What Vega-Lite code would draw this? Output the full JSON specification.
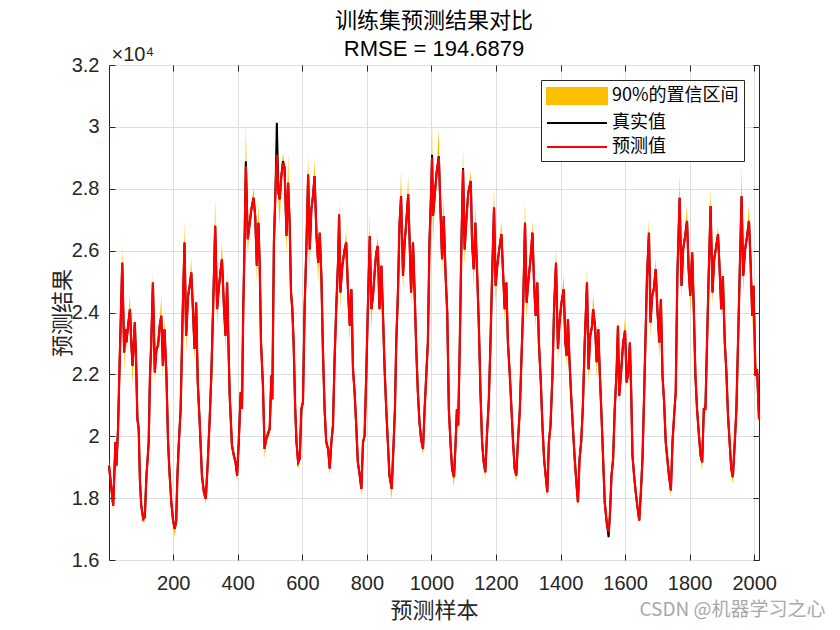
{
"$schema": "https://vega.github.io/schema/vega-lite/v6.json",
"width": 650,
"height": 495,
"autosize": "none",
"padding": {"left": 109, "top": 65, "right": 81, "bottom": 70},
"background": "white",
"title": {"text": "训练集预测结果对比", "subtitle": "RMSE = 194.6879", "font": "Noto Sans CJK SC", "fontSize": 22, "fontWeight": "normal", "color": "#000000", "subtitleFont": "Liberation Sans", "subtitleFontSize": 22, "subtitleColor": "#000000", "subtitlePadding": 6, "offset": -17, "anchor": "middle"},
"config": {"view": {"stroke": "#262626", "strokeWidth": 1}},
"data": {"values": [
{"x":1,"t":19050,"p":19050,"lo":18900,"hi":19200},
{"x":14,"t":17760,"p":17760,"lo":17550,"hi":17910},
{"x":21,"t":19810,"p":19810,"lo":19660,"hi":19960},
{"x":24,"t":19050,"p":19050,"lo":18900,"hi":19200},
{"x":29,"t":20240,"p":20240,"lo":20090,"hi":20390},
{"x":34,"t":22390,"p":22390,"lo":22240,"hi":22540},
{"x":42,"t":25610,"p":25610,"lo":25460,"hi":26150},
{"x":48,"t":22710,"p":22710,"lo":22060,"hi":22860},
{"x":52,"t":23460,"p":23460,"lo":23310,"hi":23610},
{"x":55,"t":23030,"p":23030,"lo":22880,"hi":23180},
{"x":60,"t":23570,"p":23570,"lo":23420,"hi":23720},
{"x":66,"t":24110,"p":24110,"lo":23960,"hi":24590},
{"x":70,"t":23030,"p":23030,"lo":22880,"hi":23180},
{"x":74,"t":22280,"p":22280,"lo":21630,"hi":22430},
{"x":81,"t":23680,"p":23680,"lo":23530,"hi":23830},
{"x":85,"t":22390,"p":22390,"lo":22240,"hi":22540},
{"x":89,"t":20560,"p":20560,"lo":20410,"hi":20710},
{"x":93,"t":20240,"p":20240,"lo":20090,"hi":20390},
{"x":97,"t":18520,"p":18520,"lo":18370,"hi":18670},
{"x":101,"t":17760,"p":17760,"lo":17610,"hi":17910},
{"x":107,"t":17330,"p":17330,"lo":17220,"hi":17480},
{"x":112,"t":17390,"p":17390,"lo":17240,"hi":17540},
{"x":117,"t":18730,"p":18730,"lo":18580,"hi":18880},
{"x":120,"t":19160,"p":19160,"lo":19010,"hi":19310},
{"x":124,"t":19810,"p":19810,"lo":19660,"hi":19960},
{"x":128,"t":21960,"p":21960,"lo":21810,"hi":22110},
{"x":132,"t":23030,"p":23030,"lo":22880,"hi":23180},
{"x":137,"t":24970,"p":24970,"lo":24820,"hi":25290},
{"x":143,"t":22060,"p":22060,"lo":21700,"hi":22210},
{"x":148,"t":22820,"p":22820,"lo":22670,"hi":22970},
{"x":153,"t":22930,"p":22930,"lo":22780,"hi":23080},
{"x":158,"t":23570,"p":23570,"lo":23420,"hi":23720},
{"x":163,"t":23890,"p":23890,"lo":23740,"hi":24540},
{"x":168,"t":22280,"p":22280,"lo":21900,"hi":22430},
{"x":173,"t":23460,"p":23460,"lo":23310,"hi":23840},
{"x":179,"t":21960,"p":21960,"lo":21810,"hi":22110},
{"x":184,"t":19810,"p":19810,"lo":19660,"hi":19960},
{"x":189,"t":18730,"p":18730,"lo":18580,"hi":18880},
{"x":194,"t":17870,"p":17870,"lo":17720,"hi":18020},
{"x":199,"t":17330,"p":17330,"lo":17180,"hi":17480},
{"x":204,"t":17010,"p":17010,"lo":16740,"hi":17160},
{"x":209,"t":17220,"p":17220,"lo":17070,"hi":17370},
{"x":213,"t":18730,"p":18730,"lo":18580,"hi":18880},
{"x":217,"t":19700,"p":19700,"lo":19550,"hi":19850},
{"x":223,"t":20880,"p":20880,"lo":20730,"hi":21030},
{"x":229,"t":23890,"p":23890,"lo":23740,"hi":24040},
{"x":235,"t":26260,"p":26260,"lo":26110,"hi":26950},
{"x":240,"t":23250,"p":23250,"lo":22660,"hi":23400},
{"x":246,"t":24540,"p":24540,"lo":24390,"hi":24690},
{"x":251,"t":24860,"p":24860,"lo":24710,"hi":25010},
{"x":256,"t":25290,"p":25290,"lo":25140,"hi":25770},
{"x":261,"t":24110,"p":24110,"lo":23960,"hi":24260},
{"x":266,"t":22820,"p":22820,"lo":22390,"hi":22970},
{"x":271,"t":24320,"p":24320,"lo":24170,"hi":24470},
{"x":276,"t":21740,"p":21740,"lo":21590,"hi":21890},
{"x":282,"t":20450,"p":20450,"lo":20300,"hi":20600},
{"x":289,"t":18730,"p":18730,"lo":18580,"hi":18880},
{"x":295,"t":18190,"p":18190,"lo":18040,"hi":18340},
{"x":301,"t":17980,"p":17980,"lo":17820,"hi":18130},
{"x":307,"t":19160,"p":19160,"lo":19010,"hi":19310},
{"x":313,"t":20560,"p":20560,"lo":20410,"hi":20710},
{"x":318,"t":21960,"p":21960,"lo":21810,"hi":22110},
{"x":324,"t":24320,"p":24320,"lo":24170,"hi":24470},
{"x":330,"t":26800,"p":26800,"lo":26650,"hi":27660},
{"x":336,"t":24110,"p":24110,"lo":23570,"hi":24260},
{"x":341,"t":24750,"p":24750,"lo":24600,"hi":24900},
{"x":346,"t":25290,"p":25290,"lo":25140,"hi":25440},
{"x":351,"t":25720,"p":25720,"lo":25570,"hi":26260},
{"x":357,"t":24220,"p":24220,"lo":24070,"hi":24370},
{"x":362,"t":23250,"p":23250,"lo":22710,"hi":23400},
{"x":367,"t":24970,"p":24970,"lo":24820,"hi":25400},
{"x":371,"t":23030,"p":23030,"lo":22880,"hi":23180},
{"x":375,"t":21310,"p":21310,"lo":21160,"hi":21460},
{"x":382,"t":19700,"p":19700,"lo":19550,"hi":19850},
{"x":388,"t":19370,"p":19370,"lo":19220,"hi":19520},
{"x":393,"t":19160,"p":19160,"lo":19010,"hi":19310},
{"x":398,"t":18730,"p":18730,"lo":18520,"hi":18880},
{"x":403,"t":19810,"p":19810,"lo":19660,"hi":19960},
{"x":409,"t":21420,"p":21420,"lo":21270,"hi":21570},
{"x":413,"t":20880,"p":20880,"lo":20730,"hi":21030},
{"x":417,"t":24110,"p":24110,"lo":23960,"hi":24260},
{"x":421,"t":26260,"p":26260,"lo":26110,"hi":26410},
{"x":425,"t":28890,"p":28730,"lo":28580,"hi":30070},
{"x":431,"t":26370,"p":26370,"lo":25830,"hi":26520},
{"x":436,"t":26800,"p":26800,"lo":26650,"hi":26950},
{"x":442,"t":27330,"p":27330,"lo":27180,"hi":27480},
{"x":449,"t":27710,"p":27710,"lo":27560,"hi":28030},
{"x":454,"t":27120,"p":27120,"lo":26970,"hi":27270},
{"x":459,"t":25510,"p":25510,"lo":24970,"hi":25660},
{"x":464,"t":26900,"p":26900,"lo":26750,"hi":27660},
{"x":468,"t":25510,"p":25510,"lo":25360,"hi":25660},
{"x":472,"t":23030,"p":23030,"lo":22880,"hi":23180},
{"x":478,"t":21630,"p":21630,"lo":21480,"hi":21780},
{"x":483,"t":19590,"p":19590,"lo":19270,"hi":19740},
{"x":488,"t":19910,"p":19910,"lo":19760,"hi":20060},
{"x":499,"t":20240,"p":20240,"lo":20090,"hi":20390},
{"x":504,"t":21960,"p":21960,"lo":21810,"hi":22110},
{"x":507,"t":21200,"p":21200,"lo":21050,"hi":21350},
{"x":512,"t":26260,"p":26260,"lo":26110,"hi":26410},
{"x":517,"t":28000,"p":28000,"lo":27850,"hi":28150},
{"x":521,"t":30130,"p":29100,"lo":28950,"hi":29600},
{"x":526,"t":27870,"p":27870,"lo":27500,"hi":28020},
{"x":530,"t":27660,"p":27660,"lo":26800,"hi":27810},
{"x":535,"t":28410,"p":28410,"lo":28260,"hi":28560},
{"x":540,"t":28890,"p":28840,"lo":28690,"hi":29160},
{"x":545,"t":28680,"p":28680,"lo":28530,"hi":28830},
{"x":551,"t":26470,"p":26470,"lo":25830,"hi":26620},
{"x":556,"t":28190,"p":28190,"lo":28040,"hi":29160},
{"x":561,"t":26800,"p":26800,"lo":26650,"hi":26950},
{"x":565,"t":24650,"p":24650,"lo":24500,"hi":24800},
{"x":569,"t":24110,"p":24110,"lo":23960,"hi":24260},
{"x":573,"t":23030,"p":23030,"lo":22880,"hi":23180},
{"x":578,"t":20880,"p":20880,"lo":20730,"hi":21030},
{"x":582,"t":19810,"p":19810,"lo":19660,"hi":19960},
{"x":587,"t":19160,"p":19160,"lo":18950,"hi":19310},
{"x":592,"t":19270,"p":19270,"lo":19120,"hi":19420},
{"x":597,"t":20880,"p":20880,"lo":20730,"hi":21030},
{"x":602,"t":21100,"p":21100,"lo":20950,"hi":21250},
{"x":607,"t":24110,"p":24110,"lo":23960,"hi":24260},
{"x":613,"t":26260,"p":26260,"lo":26110,"hi":26410},
{"x":618,"t":28460,"p":28460,"lo":28310,"hi":29160},
{"x":623,"t":26040,"p":26040,"lo":25290,"hi":26190},
{"x":628,"t":27330,"p":27330,"lo":27180,"hi":27480},
{"x":633,"t":27760,"p":27760,"lo":27610,"hi":27910},
{"x":638,"t":28410,"p":28410,"lo":28260,"hi":28950},
{"x":644,"t":26470,"p":26470,"lo":26320,"hi":26620},
{"x":649,"t":25610,"p":25610,"lo":24970,"hi":25760},
{"x":654,"t":26580,"p":26580,"lo":26430,"hi":26730},
{"x":659,"t":25180,"p":25180,"lo":25030,"hi":25330},
{"x":664,"t":22710,"p":22710,"lo":22560,"hi":22860},
{"x":669,"t":20880,"p":20880,"lo":20730,"hi":21030},
{"x":674,"t":19810,"p":19810,"lo":19660,"hi":19960},
{"x":680,"t":19590,"p":19590,"lo":19440,"hi":19740},
{"x":685,"t":18950,"p":18950,"lo":18730,"hi":19100},
{"x":690,"t":19810,"p":19810,"lo":19660,"hi":19960},
{"x":695,"t":20350,"p":20350,"lo":20200,"hi":20500},
{"x":700,"t":22500,"p":22500,"lo":22350,"hi":22650},
{"x":705,"t":24110,"p":24110,"lo":23960,"hi":24260},
{"x":711,"t":25720,"p":25720,"lo":25570,"hi":25870},
{"x":714,"t":27170,"p":27170,"lo":27020,"hi":27710},
{"x":718,"t":24650,"p":24650,"lo":24110,"hi":24800},
{"x":724,"t":25510,"p":25510,"lo":25360,"hi":25660},
{"x":731,"t":26040,"p":26040,"lo":25890,"hi":26190},
{"x":736,"t":26260,"p":26260,"lo":26110,"hi":26630},
{"x":741,"t":24860,"p":24860,"lo":24710,"hi":25010},
{"x":747,"t":23570,"p":23570,"lo":23030,"hi":23720},
{"x":752,"t":24750,"p":24750,"lo":24600,"hi":24900},
{"x":757,"t":22170,"p":22170,"lo":22020,"hi":22320},
{"x":762,"t":21420,"p":21420,"lo":21270,"hi":21570},
{"x":767,"t":20350,"p":20350,"lo":20200,"hi":20500},
{"x":772,"t":19160,"p":19160,"lo":19010,"hi":19310},
{"x":778,"t":18730,"p":18730,"lo":18580,"hi":18880},
{"x":783,"t":18300,"p":18300,"lo":18030,"hi":18450},
{"x":788,"t":19810,"p":19810,"lo":19660,"hi":19960},
{"x":793,"t":20020,"p":20020,"lo":19870,"hi":20170},
{"x":798,"t":21960,"p":21960,"lo":21810,"hi":22110},
{"x":803,"t":24110,"p":24110,"lo":23960,"hi":24260},
{"x":809,"t":26470,"p":26470,"lo":26320,"hi":27170},
{"x":814,"t":24110,"p":24110,"lo":23460,"hi":24260},
{"x":819,"t":24540,"p":24540,"lo":24390,"hi":24690},
{"x":824,"t":25290,"p":25290,"lo":25140,"hi":25440},
{"x":829,"t":25940,"p":25940,"lo":25790,"hi":26090},
{"x":834,"t":26150,"p":26150,"lo":26000,"hi":26470},
{"x":839,"t":24110,"p":24110,"lo":23960,"hi":24260},
{"x":845,"t":25510,"p":25510,"lo":25360,"hi":25660},
{"x":850,"t":23890,"p":23890,"lo":23460,"hi":24040},
{"x":855,"t":22170,"p":22170,"lo":22020,"hi":22320},
{"x":860,"t":20880,"p":20880,"lo":20730,"hi":21030},
{"x":865,"t":19810,"p":19810,"lo":19660,"hi":19960},
{"x":870,"t":18730,"p":18730,"lo":18580,"hi":18880},
{"x":877,"t":18300,"p":18300,"lo":17920,"hi":18450},
{"x":883,"t":19810,"p":19810,"lo":19660,"hi":19960},
{"x":887,"t":20880,"p":20880,"lo":20730,"hi":21030},
{"x":891,"t":23030,"p":23030,"lo":22880,"hi":23180},
{"x":896,"t":24540,"p":24540,"lo":24390,"hi":24690},
{"x":901,"t":26800,"p":26800,"lo":26650,"hi":26950},
{"x":906,"t":27760,"p":27760,"lo":27610,"hi":28620},
{"x":912,"t":25180,"p":25180,"lo":24650,"hi":25330},
{"x":917,"t":26260,"p":26260,"lo":26110,"hi":26410},
{"x":922,"t":26900,"p":26900,"lo":26750,"hi":27050},
{"x":928,"t":27820,"p":27820,"lo":27670,"hi":28410},
{"x":932,"t":26470,"p":26470,"lo":26320,"hi":26620},
{"x":937,"t":24650,"p":24650,"lo":24220,"hi":24800},
{"x":943,"t":26260,"p":26260,"lo":26110,"hi":26410},
{"x":948,"t":24650,"p":24650,"lo":24500,"hi":24800},
{"x":953,"t":22820,"p":22820,"lo":22670,"hi":22970},
{"x":958,"t":21420,"p":21420,"lo":21270,"hi":21570},
{"x":963,"t":20450,"p":20450,"lo":20300,"hi":20600},
{"x":968,"t":19910,"p":19910,"lo":19760,"hi":20060},
{"x":974,"t":19590,"p":19590,"lo":19380,"hi":19740},
{"x":979,"t":20880,"p":20880,"lo":20730,"hi":21030},
{"x":984,"t":21960,"p":21960,"lo":21810,"hi":22110},
{"x":989,"t":23030,"p":23030,"lo":22880,"hi":23180},
{"x":994,"t":26260,"p":26260,"lo":26110,"hi":26410},
{"x":999,"t":27870,"p":27870,"lo":27720,"hi":28020},
{"x":1002,"t":29100,"p":29000,"lo":28850,"hi":30130},
{"x":1005,"t":27120,"p":27120,"lo":26260,"hi":27270},
{"x":1011,"t":27870,"p":27870,"lo":27720,"hi":28020},
{"x":1016,"t":28520,"p":28520,"lo":28370,"hi":28670},
{"x":1023,"t":29050,"p":29000,"lo":28850,"hi":29910},
{"x":1028,"t":27330,"p":27330,"lo":27180,"hi":27480},
{"x":1033,"t":25720,"p":25720,"lo":25290,"hi":25870},
{"x":1038,"t":27120,"p":27120,"lo":26970,"hi":27760},
{"x":1044,"t":25180,"p":25180,"lo":25030,"hi":25330},
{"x":1049,"t":24000,"p":24000,"lo":23850,"hi":24150},
{"x":1054,"t":20880,"p":20880,"lo":20730,"hi":21030},
{"x":1059,"t":19810,"p":19810,"lo":19660,"hi":19960},
{"x":1064,"t":18950,"p":18950,"lo":18800,"hi":19100},
{"x":1070,"t":18680,"p":18680,"lo":18350,"hi":18830},
{"x":1075,"t":19810,"p":19810,"lo":19660,"hi":19960},
{"x":1079,"t":20880,"p":20880,"lo":20730,"hi":21030},
{"x":1083,"t":20350,"p":20350,"lo":20200,"hi":20500},
{"x":1088,"t":23030,"p":23030,"lo":22880,"hi":23180},
{"x":1093,"t":26260,"p":26260,"lo":26110,"hi":26410},
{"x":1098,"t":28670,"p":28620,"lo":28470,"hi":29320},
{"x":1103,"t":26040,"p":26040,"lo":25510,"hi":26190},
{"x":1109,"t":27120,"p":27120,"lo":26970,"hi":27270},
{"x":1114,"t":27870,"p":27870,"lo":27720,"hi":28020},
{"x":1122,"t":28250,"p":28250,"lo":28100,"hi":28570},
{"x":1126,"t":26260,"p":26260,"lo":26110,"hi":26410},
{"x":1131,"t":25400,"p":25400,"lo":24750,"hi":25550},
{"x":1136,"t":26900,"p":26900,"lo":26750,"hi":27550},
{"x":1142,"t":25180,"p":25180,"lo":25030,"hi":25330},
{"x":1147,"t":23570,"p":23570,"lo":23420,"hi":23720},
{"x":1152,"t":21420,"p":21420,"lo":21270,"hi":21570},
{"x":1157,"t":19810,"p":19810,"lo":19660,"hi":19960},
{"x":1162,"t":19160,"p":19160,"lo":19010,"hi":19310},
{"x":1167,"t":18840,"p":18840,"lo":18620,"hi":18990},
{"x":1172,"t":20020,"p":20020,"lo":19870,"hi":20170},
{"x":1178,"t":21200,"p":21200,"lo":21050,"hi":21350},
{"x":1183,"t":23030,"p":23030,"lo":22880,"hi":23180},
{"x":1188,"t":25180,"p":25180,"lo":25030,"hi":25330},
{"x":1194,"t":27390,"p":27390,"lo":27240,"hi":28080},
{"x":1199,"t":24860,"p":24860,"lo":24220,"hi":25010},
{"x":1204,"t":25510,"p":25510,"lo":25360,"hi":25660},
{"x":1210,"t":26040,"p":26040,"lo":25890,"hi":26190},
{"x":1217,"t":26530,"p":26530,"lo":26380,"hi":26960},
{"x":1222,"t":25290,"p":25290,"lo":25140,"hi":25440},
{"x":1227,"t":24110,"p":24110,"lo":23680,"hi":24260},
{"x":1232,"t":24970,"p":24970,"lo":24820,"hi":25120},
{"x":1237,"t":23030,"p":23030,"lo":22880,"hi":23180},
{"x":1243,"t":21960,"p":21960,"lo":21810,"hi":22110},
{"x":1248,"t":20880,"p":20880,"lo":20730,"hi":21030},
{"x":1253,"t":19810,"p":19810,"lo":19660,"hi":19960},
{"x":1258,"t":18950,"p":18950,"lo":18800,"hi":19100},
{"x":1263,"t":18730,"p":18730,"lo":18520,"hi":18880},
{"x":1268,"t":19810,"p":19810,"lo":19660,"hi":19960},
{"x":1274,"t":20880,"p":20880,"lo":20730,"hi":21030},
{"x":1279,"t":22500,"p":22500,"lo":22350,"hi":22650},
{"x":1284,"t":24110,"p":24110,"lo":23960,"hi":24260},
{"x":1290,"t":26900,"p":26900,"lo":26750,"hi":27660},
{"x":1295,"t":24320,"p":24320,"lo":23680,"hi":24470},
{"x":1300,"t":24970,"p":24970,"lo":24820,"hi":25120},
{"x":1307,"t":25720,"p":25720,"lo":25570,"hi":25870},
{"x":1313,"t":26580,"p":26580,"lo":26430,"hi":27010},
{"x":1318,"t":24970,"p":24970,"lo":24820,"hi":25120},
{"x":1323,"t":23890,"p":23890,"lo":23460,"hi":24040},
{"x":1328,"t":24970,"p":24970,"lo":24820,"hi":25120},
{"x":1333,"t":23030,"p":23030,"lo":22880,"hi":23180},
{"x":1339,"t":21740,"p":21740,"lo":21590,"hi":21890},
{"x":1344,"t":20350,"p":20350,"lo":20200,"hi":20500},
{"x":1349,"t":19270,"p":19270,"lo":19120,"hi":19420},
{"x":1354,"t":18730,"p":18730,"lo":18580,"hi":18880},
{"x":1359,"t":18190,"p":18190,"lo":17980,"hi":18340},
{"x":1364,"t":19810,"p":19810,"lo":19660,"hi":19960},
{"x":1369,"t":20350,"p":20350,"lo":20200,"hi":20500},
{"x":1375,"t":21960,"p":21960,"lo":21810,"hi":22110},
{"x":1380,"t":24110,"p":24110,"lo":23960,"hi":24260},
{"x":1386,"t":25610,"p":25610,"lo":25460,"hi":26150},
{"x":1392,"t":22820,"p":22820,"lo":22390,"hi":22970},
{"x":1397,"t":23680,"p":23680,"lo":23530,"hi":23830},
{"x":1403,"t":24320,"p":24320,"lo":24170,"hi":24470},
{"x":1410,"t":24750,"p":24750,"lo":24600,"hi":25180},
{"x":1415,"t":23030,"p":23030,"lo":22880,"hi":23180},
{"x":1419,"t":22600,"p":22600,"lo":22280,"hi":22750},
{"x":1423,"t":23790,"p":23790,"lo":23640,"hi":23940},
{"x":1428,"t":22390,"p":22390,"lo":22240,"hi":22540},
{"x":1433,"t":21310,"p":21310,"lo":21160,"hi":21460},
{"x":1438,"t":20350,"p":20350,"lo":20200,"hi":20500},
{"x":1444,"t":19270,"p":19270,"lo":19120,"hi":19420},
{"x":1449,"t":18520,"p":18520,"lo":18370,"hi":18670},
{"x":1454,"t":17870,"p":17870,"lo":17660,"hi":18020},
{"x":1459,"t":19270,"p":19270,"lo":19120,"hi":19420},
{"x":1464,"t":19810,"p":19810,"lo":19660,"hi":19960},
{"x":1469,"t":20880,"p":20880,"lo":20730,"hi":21030},
{"x":1475,"t":23030,"p":23030,"lo":22880,"hi":23180},
{"x":1482,"t":24970,"p":24970,"lo":24820,"hi":25400},
{"x":1487,"t":22170,"p":22170,"lo":21630,"hi":22320},
{"x":1492,"t":23250,"p":23250,"lo":23100,"hi":23400},
{"x":1498,"t":23570,"p":23570,"lo":23420,"hi":23720},
{"x":1501,"t":24110,"p":24110,"lo":23960,"hi":24650},
{"x":1507,"t":23570,"p":23570,"lo":23420,"hi":23720},
{"x":1512,"t":22390,"p":22390,"lo":21850,"hi":22540},
{"x":1517,"t":23460,"p":23460,"lo":23310,"hi":23610},
{"x":1522,"t":21960,"p":21960,"lo":21810,"hi":22110},
{"x":1527,"t":20670,"p":20670,"lo":20520,"hi":20820},
{"x":1532,"t":19270,"p":19270,"lo":19120,"hi":19420},
{"x":1537,"t":17870,"p":17870,"lo":17720,"hi":18020},
{"x":1543,"t":17220,"p":17220,"lo":17070,"hi":17370},
{"x":1549,"t":16740,"p":16900,"lo":16800,"hi":17050},
{"x":1553,"t":17440,"p":17440,"lo":17290,"hi":17590},
{"x":1558,"t":18730,"p":18730,"lo":18580,"hi":18880},
{"x":1563,"t":19270,"p":19270,"lo":19120,"hi":19420},
{"x":1568,"t":20880,"p":20880,"lo":20730,"hi":21030},
{"x":1574,"t":22170,"p":22170,"lo":22020,"hi":22320},
{"x":1578,"t":23570,"p":23570,"lo":23420,"hi":23890},
{"x":1582,"t":21310,"p":21310,"lo":21000,"hi":21460},
{"x":1587,"t":21960,"p":21960,"lo":21810,"hi":22110},
{"x":1594,"t":23030,"p":23030,"lo":22880,"hi":23180},
{"x":1600,"t":23410,"p":23410,"lo":23260,"hi":23840},
{"x":1605,"t":21740,"p":21740,"lo":21590,"hi":21890},
{"x":1610,"t":22060,"p":22060,"lo":21910,"hi":22210},
{"x":1615,"t":23030,"p":23030,"lo":22880,"hi":23190},
{"x":1619,"t":21420,"p":21420,"lo":21270,"hi":21570},
{"x":1623,"t":19380,"p":19380,"lo":19230,"hi":19530},
{"x":1628,"t":18730,"p":18730,"lo":18580,"hi":18880},
{"x":1633,"t":18190,"p":18190,"lo":18040,"hi":18340},
{"x":1639,"t":17660,"p":17660,"lo":17510,"hi":17810},
{"x":1644,"t":17280,"p":17280,"lo":17170,"hi":17430},
{"x":1649,"t":18190,"p":18190,"lo":18040,"hi":18340},
{"x":1654,"t":19270,"p":19270,"lo":19120,"hi":19420},
{"x":1658,"t":20880,"p":20880,"lo":20730,"hi":21030},
{"x":1663,"t":23030,"p":23030,"lo":22880,"hi":23180},
{"x":1668,"t":25180,"p":25180,"lo":25030,"hi":25330},
{"x":1674,"t":26580,"p":26580,"lo":26430,"hi":27060},
{"x":1679,"t":23680,"p":23680,"lo":23140,"hi":23830},
{"x":1684,"t":24540,"p":24540,"lo":24390,"hi":24690},
{"x":1689,"t":24750,"p":24750,"lo":24600,"hi":24900},
{"x":1695,"t":25400,"p":25400,"lo":25250,"hi":25770},
{"x":1700,"t":24110,"p":24110,"lo":23960,"hi":24260},
{"x":1706,"t":23030,"p":23030,"lo":22500,"hi":23180},
{"x":1711,"t":24430,"p":24430,"lo":24280,"hi":24580},
{"x":1716,"t":21960,"p":21960,"lo":21810,"hi":22110},
{"x":1721,"t":21100,"p":21100,"lo":20950,"hi":21250},
{"x":1726,"t":19810,"p":19810,"lo":19660,"hi":19960},
{"x":1731,"t":19270,"p":19270,"lo":19120,"hi":19420},
{"x":1736,"t":18730,"p":18730,"lo":18580,"hi":18880},
{"x":1742,"t":18250,"p":18250,"lo":18030,"hi":18400},
{"x":1747,"t":19810,"p":19810,"lo":19660,"hi":19960},
{"x":1752,"t":20670,"p":20670,"lo":20520,"hi":20820},
{"x":1757,"t":21420,"p":21420,"lo":21270,"hi":21570},
{"x":1762,"t":25180,"p":25180,"lo":25030,"hi":25330},
{"x":1769,"t":27710,"p":27710,"lo":27560,"hi":28460},
{"x":1775,"t":24860,"p":24860,"lo":24430,"hi":25010},
{"x":1780,"t":26040,"p":26040,"lo":25890,"hi":26190},
{"x":1786,"t":26470,"p":26470,"lo":26320,"hi":26620},
{"x":1792,"t":26960,"p":26960,"lo":26810,"hi":27490},
{"x":1797,"t":25400,"p":25400,"lo":25250,"hi":25550},
{"x":1802,"t":24540,"p":24540,"lo":24050,"hi":24690},
{"x":1808,"t":25940,"p":25940,"lo":25790,"hi":26090},
{"x":1813,"t":24110,"p":24110,"lo":23960,"hi":24260},
{"x":1818,"t":21960,"p":21960,"lo":21810,"hi":22110},
{"x":1823,"t":20880,"p":20880,"lo":20730,"hi":21030},
{"x":1829,"t":20020,"p":20020,"lo":19870,"hi":20170},
{"x":1834,"t":19380,"p":19380,"lo":19230,"hi":19530},
{"x":1839,"t":19160,"p":19160,"lo":18890,"hi":19310},
{"x":1844,"t":20880,"p":20880,"lo":20730,"hi":21030},
{"x":1849,"t":20880,"p":20880,"lo":20730,"hi":21030},
{"x":1854,"t":23030,"p":23030,"lo":22880,"hi":23180},
{"x":1859,"t":25180,"p":25180,"lo":25030,"hi":25330},
{"x":1865,"t":27440,"p":27440,"lo":27290,"hi":28030},
{"x":1871,"t":24650,"p":24650,"lo":24220,"hi":24800},
{"x":1876,"t":25720,"p":25720,"lo":25570,"hi":25870},
{"x":1881,"t":26040,"p":26040,"lo":25890,"hi":26190},
{"x":1888,"t":26530,"p":26530,"lo":26380,"hi":26800},
{"x":1893,"t":25400,"p":25400,"lo":25250,"hi":25550},
{"x":1898,"t":24110,"p":24110,"lo":23790,"hi":24260},
{"x":1903,"t":25180,"p":25180,"lo":25030,"hi":25330},
{"x":1909,"t":23030,"p":23030,"lo":22880,"hi":23180},
{"x":1914,"t":22060,"p":22060,"lo":21910,"hi":22210},
{"x":1919,"t":20670,"p":20670,"lo":20520,"hi":20820},
{"x":1924,"t":19810,"p":19810,"lo":19660,"hi":19960},
{"x":1929,"t":18950,"p":18950,"lo":18800,"hi":19100},
{"x":1934,"t":18680,"p":18680,"lo":18460,"hi":18830},
{"x":1940,"t":19810,"p":19810,"lo":19660,"hi":19960},
{"x":1945,"t":20880,"p":20880,"lo":20730,"hi":21030},
{"x":1950,"t":23030,"p":23030,"lo":22880,"hi":23180},
{"x":1955,"t":25180,"p":25180,"lo":25030,"hi":25330},
{"x":1961,"t":27760,"p":27760,"lo":27610,"hi":28680},
{"x":1966,"t":25180,"p":25180,"lo":24650,"hi":25330},
{"x":1972,"t":26040,"p":26040,"lo":25890,"hi":26190},
{"x":1978,"t":26470,"p":26470,"lo":26320,"hi":26620},
{"x":1984,"t":26960,"p":26960,"lo":26810,"hi":27490},
{"x":1989,"t":25610,"p":25610,"lo":25460,"hi":25760},
{"x":1994,"t":23890,"p":23890,"lo":23460,"hi":24040},
{"x":1998,"t":24860,"p":24860,"lo":24710,"hi":25010},
{"x":2004,"t":21960,"p":21960,"lo":21810,"hi":22110},
{"x":2009,"t":22170,"p":22170,"lo":22020,"hi":22320},
{"x":2015,"t":20550,"p":20550,"lo":20400,"hi":20700}
]},
"layer": [
{
"mark": {"type": "area", "opacity": 1},
"encoding": {
"x": {"field": "x", "type": "quantitative", "scale": {"domain": [1, 2015], "nice": false, "zero": false},
"axis": {"orient": "bottom", "values": [200,400,600,800,1000,1200,1400,1600,1800,2000], "format": "d", "title": "预测样本", "titleFont": "Noto Sans CJK SC", "titleFontSize": 22, "titleFontWeight": "normal", "titleColor": "#262626", "titlePadding": 7, "labelFont": "Liberation Sans", "labelFontSize": 20, "labelColor": "#262626", "labelPadding": 19, "tickSize": -6, "tickColor": "#262626", "domain": false, "grid": true, "gridColor": "#dfdfdf", "gridWidth": 1}},
"y": {"field": "lo", "type": "quantitative", "scale": {"domain": [16000, 32000], "nice": false, "zero": false},
"axis": {"orient": "left", "values": [16000,18000,20000,22000,24000,26000,28000,30000,32000], "labelExpr": "format(datum.value/10000, '.2~f')", "title": "预测结果", "titleFont": "Noto Sans CJK SC", "titleFontSize": 22, "titleFontWeight": "normal", "titleColor": "#262626", "titlePadding": -3, "labelFont": "Liberation Sans", "labelFontSize": 20, "labelColor": "#262626", "labelPadding": 16, "tickSize": -6, "tickColor": "#262626", "domain": false, "grid": true, "gridColor": "#dfdfdf", "gridWidth": 1}},
"y2": {"field": "hi"},
"color": {"datum": "90%的置信区间", "type": "nominal",
"scale": {"domain": ["90%的置信区间", "真实值", "预测值"], "range": ["#FDC000", "#000000", "#FF0000"]},
"legend": {"title": null, "orient": "top-right", "offset": 15, "symbolType": "M-3,0H3", "symbolSize": 400, "symbolOffset": 20, "symbolStrokeWidth": 2, "labelFont": "Noto Sans CJK SC", "labelFontSize": 18, "labelColor": "#000000", "labelOffset": 24, "strokeColor": "#262626", "fillColor": "#ffffff", "padding": 5, "rowPadding": 4,
"encode": {"symbols": {"update": {"shape": {"signal": "datum.index === 0 ? 'M-3,-0.8H3V0.8H-3Z' : 'M-3,0H3'"}, "fill": {"signal": "datum.index === 0 ? scale('color', datum.value) : 'transparent'"}, "stroke": {"signal": "datum.index === 0 ? 'transparent' : scale('color', datum.value)"}, "strokeWidth": {"value": 2}, "opacity": {"value": 1}}}}}}
}
},
{
"mark": {"type": "line", "strokeWidth": 2},
"encoding": {
"x": {"field": "x", "type": "quantitative", "scale": {"domain": [1, 2015], "nice": false, "zero": false}, "axis": null},
"y": {"field": "t", "type": "quantitative", "scale": {"domain": [16000, 32000], "nice": false, "zero": false}, "axis": null},
"color": {"datum": "真实值", "type": "nominal",
"legend": {"title": null, "orient": "top-right", "offset": 15, "symbolType": "M-3,0H3", "symbolSize": 400, "symbolOffset": 20, "symbolStrokeWidth": 2, "labelFont": "Noto Sans CJK SC", "labelFontSize": 18, "labelColor": "#000000", "labelOffset": 24, "strokeColor": "#262626", "fillColor": "#ffffff", "padding": 5, "rowPadding": 4,
"encode": {"symbols": {"update": {"shape": {"signal": "datum.index === 0 ? 'M-3,-0.8H3V0.8H-3Z' : 'M-3,0H3'"}, "fill": {"signal": "datum.index === 0 ? scale('color', datum.value) : 'transparent'"}, "stroke": {"signal": "datum.index === 0 ? 'transparent' : scale('color', datum.value)"}, "strokeWidth": {"value": 2}, "opacity": {"value": 1}}}}}}
}
},
{
"mark": {"type": "line", "strokeWidth": 2.2},
"encoding": {
"x": {"field": "x", "type": "quantitative", "scale": {"domain": [1, 2015], "nice": false, "zero": false}, "axis": null},
"y": {"field": "p", "type": "quantitative", "scale": {"domain": [16000, 32000], "nice": false, "zero": false}, "axis": null},
"color": {"datum": "预测值", "type": "nominal",
"legend": {"title": null, "orient": "top-right", "offset": 15, "symbolType": "M-3,0H3", "symbolSize": 400, "symbolOffset": 20, "symbolStrokeWidth": 2, "labelFont": "Noto Sans CJK SC", "labelFontSize": 18, "labelColor": "#000000", "labelOffset": 24, "strokeColor": "#262626", "fillColor": "#ffffff", "padding": 5, "rowPadding": 4,
"encode": {"symbols": {"update": {"shape": {"signal": "datum.index === 0 ? 'M-3,-0.8H3V0.8H-3Z' : 'M-3,0H3'"}, "fill": {"signal": "datum.index === 0 ? scale('color', datum.value) : 'transparent'"}, "stroke": {"signal": "datum.index === 0 ? 'transparent' : scale('color', datum.value)"}, "strokeWidth": {"value": 2}, "opacity": {"value": 1}}}}}}
}
},
{
"mark": {"type": "point", "opacity": 0},
"encoding": {
"x": {"field": "x", "type": "quantitative", "scale": {"domain": [1, 2015], "nice": false, "zero": false},
"axis": {"orient": "top", "values": [200,400,600,800,1000,1200,1400,1600,1800,2000], "labels": false, "tickSize": -6, "tickColor": "#262626", "domain": false, "grid": false, "title": "×10⁴", "titleAnchor": "start", "titleAlign": "left", "titleBaseline": "alphabetic", "titleX": 2, "titleY": -5, "titleFont": "Liberation Sans", "titleFontSize": 20, "titleFontWeight": "normal", "titleColor": "#262626"}},
"y": {"field": "p", "type": "quantitative", "scale": {"domain": [16000, 32000], "nice": false, "zero": false},
"axis": {"orient": "right", "values": [16000,18000,20000,22000,24000,26000,28000,30000,32000], "labels": false, "tickSize": -6, "tickColor": "#262626", "domain": false, "grid": false, "title": null}}
}
},
{
"mark": {"type": "point", "opacity": 0},
"encoding": {
"x": {"field": "x", "type": "quantitative", "scale": {"domain": [1, 2015], "nice": false, "zero": false},
"axis": {"orient": "bottom", "labels": false, "ticks": false, "domain": false, "grid": false, "title": "CSDN @机器学习之心", "titleAnchor": "end", "titleAlign": "right", "titleBaseline": "alphabetic", "titleX": 716, "titleY": 55, "titleFont": "Noto Sans CJK SC", "titleFontSize": 19, "titleFontWeight": "normal", "titleColor": "#a8a8a8"}},
"y": {"field": "p", "type": "quantitative", "scale": {"domain": [16000, 32000], "nice": false, "zero": false}, "axis": null}
}
}
],
"resolve": {"axis": {"x": "independent", "y": "independent"}}
}
